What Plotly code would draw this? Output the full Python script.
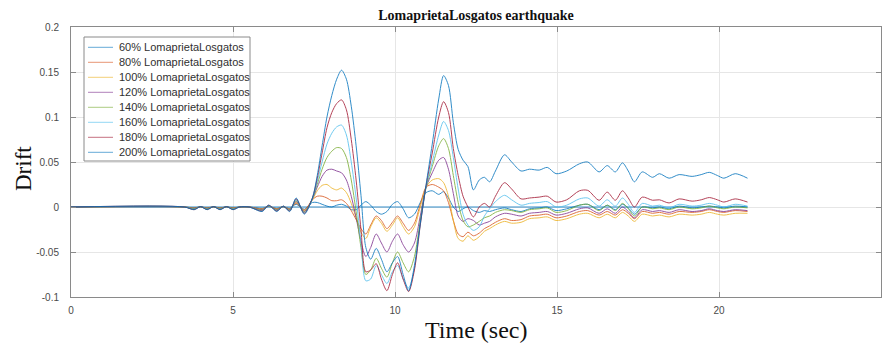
import plotly.graph_objects as go

# ---------------------------------------------------------------------------
# Inter-storey drift time histories, Loma Prieta (Los Gatos) record scaled
# from 60% to 200%.
# ---------------------------------------------------------------------------

TIME = [
    0.0, 3.5, 3.8, 4.0, 4.2, 4.4, 4.6, 4.8, 5.0, 5.2, 5.5, 5.9, 6.1, 6.35, 6.55, 6.75, 6.95, 7.2,
    7.45, 7.6, 7.75, 7.9, 8.05, 8.2, 8.35, 8.5, 8.65, 8.8,
    8.95, 9.1, 9.25, 9.42, 9.58, 9.75, 9.92, 10.08, 10.25, 10.42,
    10.6, 10.78, 10.96, 11.15, 11.35, 11.5, 11.65, 11.8, 11.95, 12.1,
    12.25, 12.42, 12.6, 12.76, 12.92, 13.1, 13.38,
    13.6, 13.89, 14.15, 14.45, 14.7, 14.97, 15.3, 15.69, 15.95, 16.3,
    16.55, 16.8, 17.02, 17.2, 17.39, 17.63, 17.95, 18.16, 18.46, 18.77,
    19.17, 19.45, 19.7, 19.95, 20.15, 20.5, 20.88,
]

DRIFT_60 = [
    0, 0, -0.0009, 0.0001, -0.0009, 0.0001, -0.0009, 0.0001, -0.0009, 0, 0, -0.0015, 0.0006, -0.0015, 0.0003, -0.0015, 0.003, -0.0025,
    0.005, 0.005, 0.003, 0.001, 0.0, 0.002, 0.003, 0.001, -0.003, -0.003,
    0.002, 0.006, 0.002, -0.005, -0.008, -0.005, 0.003, 0.006, -0.002, -0.012,
    -0.008, 0.005, 0.016, 0.018, 0.014, 0.017, 0.01, 0.0, -0.005, -0.002,
    0.0, -0.004, -0.006, -0.004, -0.005, -0.003, -0.001,
    -0.003, -0.005, -0.002, -0.001, 0.0, -0.004, -0.002, 0.002, 0.003, -0.003,
    0.002, -0.003, 0.003, -0.001, -0.008, 0.0, -0.001, 0.0, -0.002, 0.001,
    -0.001, 0.0, 0.001, 0.0, -0.001, 0.001, 0.0,
]

DRIFT_80 = [
    0, 0, -0.0012, 0.0002, -0.0012, 0.0002, -0.0012, 0.0002, -0.0012, 0, 0, -0.002, 0.0008, -0.002, 0.0004, -0.002, 0.004, -0.0032,
    0.008, 0.012, 0.012, 0.01, 0.007, 0.007, 0.008, 0.004, -0.004, -0.014,
    -0.024, -0.03, -0.02, -0.01, -0.015, -0.024, -0.017, -0.01, -0.018, -0.026,
    -0.018, 0.003, 0.022, 0.025, 0.022, 0.018, 0.005, -0.015, -0.03, -0.033,
    -0.028, -0.032, -0.029, -0.024, -0.021, -0.017, -0.013,
    -0.015, -0.014, -0.01, -0.009, -0.008, -0.012, -0.01, -0.005, -0.004, -0.009,
    -0.005, -0.009, -0.003, -0.007, -0.013, -0.005, -0.007, -0.006, -0.008, -0.005,
    -0.006, -0.005, -0.003, -0.005, -0.006, -0.004, -0.005,
]

DRIFT_100 = [
    0, 0, -0.0015, 0.0002, -0.0015, 0.0002, -0.0015, 0.0002, -0.0015, 0, 0, -0.0025, 0.001, -0.0025, 0.0005, -0.0025, 0.005, -0.004,
    0.008, 0.018, 0.024, 0.025, 0.021, 0.019, 0.021, 0.016, 0.004, -0.012,
    -0.028, -0.035, -0.022, -0.012, -0.018, -0.027, -0.02, -0.012, -0.022, -0.03,
    -0.022, 0.0, 0.022, 0.03, 0.0315, 0.027, 0.012, -0.015, -0.035, -0.038,
    -0.032, -0.037, -0.033, -0.027, -0.024, -0.02, -0.016,
    -0.018, -0.017, -0.013, -0.012, -0.011, -0.015, -0.013, -0.008, -0.007, -0.012,
    -0.008, -0.012, -0.006, -0.01, -0.016, -0.008, -0.01, -0.009, -0.011, -0.008,
    -0.009, -0.008, -0.006, -0.008, -0.009, -0.007, -0.007,
]

DRIFT_120 = [
    0, 0, -0.0018, 0.0003, -0.0018, 0.0003, -0.0018, 0.0003, -0.0018, 0, 0, -0.003, 0.0012, -0.003, 0.0006, -0.003, 0.006, -0.005,
    0.009, 0.022, 0.034, 0.041, 0.042, 0.04, 0.038, 0.03, 0.012, -0.012,
    -0.038, -0.055, -0.045, -0.03, -0.04, -0.05, -0.038, -0.03, -0.042, -0.05,
    -0.04, -0.01, 0.022, 0.038, 0.052, 0.055, 0.042, 0.015, -0.01, -0.016,
    -0.013, -0.015, -0.02, -0.018, -0.016, -0.011, -0.007,
    -0.008, -0.01, -0.007, -0.006, -0.005, -0.009, -0.007, -0.002, -0.001, -0.007,
    -0.002, -0.007, 0.0, -0.005, -0.012, -0.003, -0.005, -0.004, -0.006, -0.003,
    -0.005, -0.004, -0.002, -0.004, -0.005, -0.003, -0.004,
]

DRIFT_140 = [
    0, 0, -0.002, 0.0003, -0.002, 0.0003, -0.002, 0.0003, -0.002, 0, 0, -0.0035, 0.0014, -0.0035, 0.0007, -0.0035, 0.007, -0.0055,
    0.009, 0.025, 0.042, 0.055, 0.062, 0.066, 0.065, 0.055, 0.03, -0.005,
    -0.045, -0.075, -0.07, -0.057, -0.068, -0.078, -0.062, -0.05, -0.062, -0.072,
    -0.055, -0.015, 0.022, 0.045, 0.068, 0.076, 0.065, 0.035, 0.005, -0.015,
    -0.022, -0.02, -0.016, -0.012, -0.01, -0.006, -0.003,
    -0.004, -0.006, -0.003, -0.002, -0.001, -0.006, -0.004, 0.002, 0.003, -0.004,
    0.002, -0.004, 0.004, -0.002, -0.01, 0.0, -0.002, -0.001, -0.003, 0.0,
    -0.002, -0.001, 0.001, -0.001, -0.002, 0.0, -0.001,
]

DRIFT_160 = [
    0, 0, -0.0025, 0.0004, -0.0025, 0.0004, -0.0025, 0.0004, -0.0025, 0, 0, -0.004, 0.0016, -0.004, 0.0008, -0.004, 0.008, -0.0065,
    0.009, 0.028, 0.05, 0.07, 0.082, 0.089, 0.091, 0.08, 0.05, 0.01,
    -0.04, -0.082, -0.08, -0.065, -0.075, -0.085, -0.072, -0.065, -0.08, -0.09,
    -0.068, -0.02, 0.022, 0.05, 0.08, 0.095, 0.085, 0.055, 0.02, -0.008,
    -0.02, -0.026, -0.022, -0.01, -0.002, 0.006, 0.013,
    0.008, 0.002, 0.004, 0.005, 0.006, 0.0, 0.002, 0.009, 0.01, 0.001,
    0.008, 0.001, 0.01, 0.003, -0.006, 0.004, 0.001, 0.002, -0.001, 0.003,
    0.001, 0.002, 0.004, 0.002, 0.0, 0.003, 0.001,
]

DRIFT_180 = [
    0, 0, -0.003, 0.0005, -0.003, 0.0005, -0.003, 0.0005, -0.003, 0, 0, -0.0045, 0.002, -0.0045, 0.001, -0.0045, 0.009, -0.007,
    0.01, 0.032, 0.06, 0.088, 0.105, 0.115, 0.119, 0.108, 0.075, 0.03,
    -0.025, -0.072, -0.07, -0.063, -0.08, -0.093, -0.075, -0.062, -0.08, -0.094,
    -0.07, -0.02, 0.024, 0.06, 0.1, 0.117, 0.105, 0.065, 0.035, 0.012,
    0.0, -0.011, 0.0, 0.004, 0.0, 0.012, 0.027,
    0.02, 0.009, 0.01, 0.011, 0.012, 0.0055, 0.008, 0.018, 0.0185, 0.0075,
    0.0165, 0.0075, 0.018, 0.01, 0.0, 0.011, 0.0075, 0.008, 0.0045, 0.009,
    0.0065, 0.008, 0.0105, 0.008, 0.0055, 0.009, 0.0055,
]

DRIFT_200 = [
    0, 0, -0.003, 0.0005, -0.003, 0.0005, -0.003, 0.0005, -0.003, 0, 0, -0.005, 0.002, -0.005, 0.001, -0.005, 0.01, -0.008,
    0.01, 0.035, 0.068, 0.1, 0.124, 0.142, 0.152, 0.142, 0.112, 0.068,
    0.013, -0.045, -0.058, -0.046, -0.058, -0.072, -0.062, -0.055, -0.075, -0.093,
    -0.065, -0.018, 0.025, 0.07, 0.12, 0.146, 0.135, 0.094, 0.064, 0.052,
    0.045, 0.019, 0.03, 0.033, 0.028, 0.04, 0.058,
    0.05, 0.04, 0.042, 0.041, 0.044, 0.037, 0.04, 0.048, 0.05, 0.039,
    0.046, 0.039, 0.049, 0.04, 0.028, 0.039, 0.033, 0.037, 0.032, 0.036,
    0.034, 0.036, 0.0385, 0.035, 0.032, 0.037, 0.032,
]

# Flat reference trace along zero drift
BASE_T = [0.0, 20.88]
BASE_Y = [0.0, 0.0]

LABELS = [
    "60% LomaprietaLosgatos", "80% LomaprietaLosgatos", "100% LomaprietaLosgatos",
    "120% LomaprietaLosgatos", "140% LomaprietaLosgatos", "160% LomaprietaLosgatos",
    "180% LomaprietaLosgatos", "200% LomaprietaLosgatos",
]
SERIES = [DRIFT_60, DRIFT_80, DRIFT_100, DRIFT_120, DRIFT_140, DRIFT_160, DRIFT_180, DRIFT_200]
COLORS = ["#0072BD", "#D95319", "#EDB120", "#7E2F8E", "#77AC30", "#4DBEEE", "#A2142F", "#0072BD"]

X_TICKS = [0, 5, 10, 15, 20, 25]
Y_TICKS = [-0.1, -0.05, 0, 0.05, 0.1, 0.15, 0.2]
Y_TICKTEXT = ["-0.1", "-0.05", "0", "0.05", "0.1", "0.15", "0.2"]

# Figure geometry (pixels)
FIG_W, FIG_H = 885, 348
M_L, M_R, M_T, M_B = 71, 4, 27, 51
PW = FIG_W - M_L - M_R
PH = FIG_H - M_T - M_B


def xp(px):
    return (px - M_L) / PW


def yp(py):
    return (FIG_H - M_B - py) / PH


AX_COLOR = "#8a8a8a"
LINE_OPACITY = 0.8
TICK_FONT = dict(family="Liberation Sans, Arial", size=10, color="#4a4a4a")
SERIF = "Liberation Serif, Times New Roman"

fig = go.Figure()

fig.add_trace(go.Scatter(x=BASE_T, y=BASE_Y, mode="lines", opacity=LINE_OPACITY,
                         line=dict(color=COLORS[0], width=1), showlegend=False,
                         hoverinfo="skip"))

for lbl, ys, col in zip(LABELS, SERIES, COLORS):
    fig.add_trace(go.Scatter(x=TIME, y=ys, mode="lines", name=lbl, opacity=LINE_OPACITY,
                             line=dict(color=col, width=1, shape="spline", smoothing=0.8),
                             showlegend=False))

fig.update_layout(
    width=FIG_W, height=FIG_H,
    margin=dict(l=M_L, r=M_R, t=M_T, b=M_B, pad=0),
    paper_bgcolor="white", plot_bgcolor="white",
    title=dict(text="<b>LomaprietaLosgatos earthquake</b>", x=0.5, xref="paper",
               y=1 - 15 / FIG_H, yref="container", xanchor="center", yanchor="middle",
               font=dict(family=SERIF, size=14, color="#111111")),
)

fig.update_xaxes(range=[0, 25], tickvals=X_TICKS, ticktext=[str(v) for v in X_TICKS],
                 showgrid=True, gridcolor="#e6e6e6", gridwidth=1, zeroline=False,
                 showline=True, linecolor=AX_COLOR, linewidth=1, mirror="ticks",
                 ticks="inside", ticklen=5, tickcolor=AX_COLOR, tickfont=TICK_FONT,
                 ticklabelstandoff=4)
fig.update_yaxes(range=[-0.1, 0.2], tickvals=Y_TICKS, ticktext=Y_TICKTEXT,
                 showgrid=True, gridcolor="#e6e6e6", gridwidth=1, zeroline=False,
                 showline=True, linecolor=AX_COLOR, linewidth=1, mirror="ticks",
                 ticks="inside", ticklen=5, tickcolor=AX_COLOR, tickfont=TICK_FONT,
                 ticklabelstandoff=9)

annotations = [
    dict(text="Time (sec)", x=xp(476), y=yp(330), xref="paper", yref="paper",
         showarrow=False, xanchor="center", yanchor="middle",
         font=dict(family=SERIF, size=24, color="#111111")),
    dict(text="Drift", x=xp(23), y=yp(169), xref="paper", yref="paper", textangle=-90,
         showarrow=False, xanchor="center", yanchor="middle",
         font=dict(family=SERIF, size=23, color="#111111")),
]

# Legend box drawn in the upper-left corner of the axes
shapes = [dict(type="rect", xref="paper", yref="paper",
               x0=xp(84), x1=xp(250), y0=yp(161), y1=yp(37),
               line=dict(color=AX_COLOR, width=1), fillcolor="white", layer="above")]
ROW0, ROW_STEP = 47.3, 15.0
for i, (lbl, col) in enumerate(zip(LABELS, COLORS)):
    ry = ROW0 + ROW_STEP * i
    shapes.append(dict(type="line", xref="paper", yref="paper",
                       x0=xp(88), x1=xp(113), y0=yp(ry), y1=yp(ry), opacity=0.6,
                       line=dict(color=col, width=1), layer="above"))
    annotations.append(dict(text=lbl, x=xp(117), y=yp(ry), xref="paper", yref="paper",
                            showarrow=False, xanchor="left", yanchor="middle",
                            font=dict(family="Liberation Sans, Arial", size=11, color="#303030")))

fig.update_layout(shapes=shapes, annotations=annotations)

fig.write_html("out.html")
